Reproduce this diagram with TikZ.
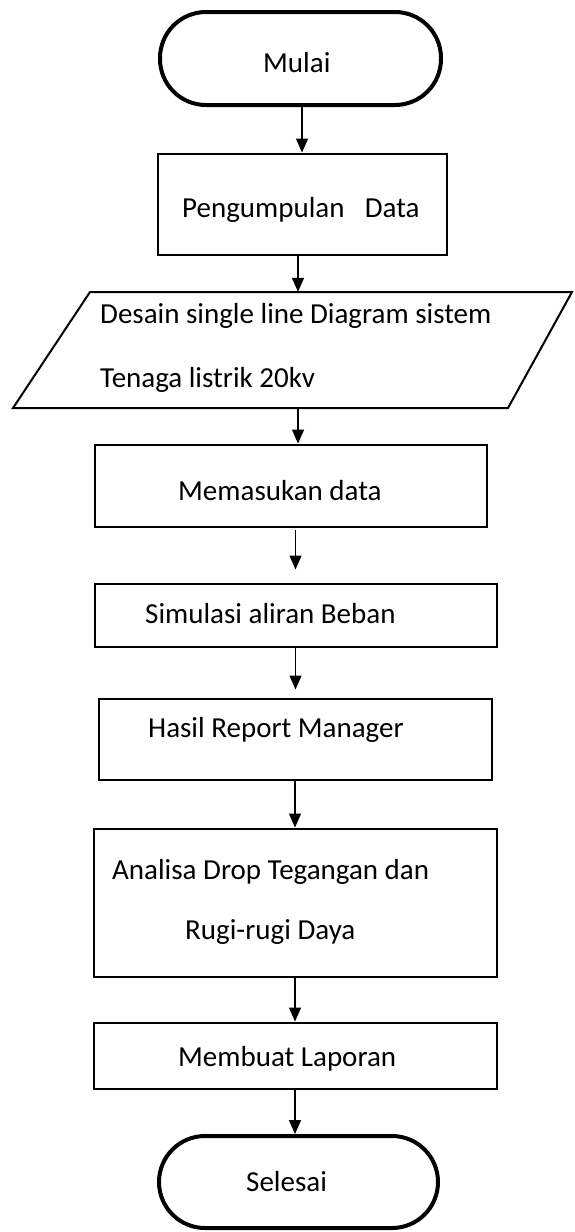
\documentclass[tikz,border=0pt]{standalone}
\usepackage{fontspec}
\setmainfont{Carlito}
\usetikzlibrary{arrows.meta}
\begin{document}
\begin{tikzpicture}[x=1pt,y=-1pt,
  term/.style={draw, line width=4pt, rounded corners=46pt, inner sep=0pt},
  box/.style={draw, line width=2pt, inner sep=0pt},
  ghost/.style={inner sep=0pt},
  txt/.style={anchor=base west, inner sep=0pt, font=\fontsize{29}{34}\selectfont},
  arr/.style={line width=1.4pt, -{Triangle[length=14pt,width=12pt]}}
]
\useasboundingbox (0,0) rectangle (574,1232);
% shapes
\node[term, minimum width=281pt, minimum height=93pt] (mulai) at (300.5,58.5) {};
\node[box, minimum width=289pt, minimum height=101pt] (peng) at (302,204) {};
\node[ghost, minimum width=400pt, minimum height=116pt] (para) at (298,350) {};
\draw[line width=2pt, line join=miter] (90,292) -- (572,292) -- (508,408) -- (13,408) -- cycle;
\node[box, minimum width=392pt, minimum height=82pt] (mem) at (290.5,485.5) {};
\node[box, minimum width=402pt, minimum height=63pt] (sim) at (295.5,615) {};
\node[box, minimum width=393pt, minimum height=81pt] (hasil) at (295,739) {};
\node[box, minimum width=403pt, minimum height=148pt] (ana) at (295,902.5) {};
\node[box, minimum width=403pt, minimum height=66pt] (memb) at (295,1055.5) {};
\node[term, minimum width=279pt, minimum height=92pt] (sel) at (298.5,1182) {};
% texts
\node[txt] (tmulai) at (263,72) {Mulai};
\node[txt] (tpeng) at (182,217) {Pengumpulan\hspace{0.7em}Data};
\node[txt] (tpara1) at (100,323) {Desain single line Diagram sistem};
\node[txt] (tpara2) at (100,387) {Tenaga listrik 20kv};
\node[txt] (tmem) at (178,500) {Memasukan data};
\node[txt] (tsim) at (145,623) {Simulasi aliran Beban};
\node[txt] (thasil) at (148,737) {Hasil Report Manager};
\node[txt] (tana1) at (112,879) {Analisa Drop Tegangan dan};
\node[txt] (tana2) at (185,939) {Rugi-rugi Daya};
\node[txt] (tmemb) at (178,1066) {Membuat Laporan};
\node[txt] (tsel) at (246,1191) {Selesai};
% connectors
\draw[arr] (mulai.south -| peng.north) -- (peng.north);
\draw[arr] (peng.south -| para.north) -- (para.north);
\draw[arr] (para.south) -- (para.south |- mem.north);
\draw[arr, shorten <=2pt, shorten >=13pt] (mem.south -| sim.north) -- (sim.north);
\draw[arr, shorten >=8pt] (sim.south) -- (sim.south |- hasil.north);
\draw[arr] (hasil.south) -- (hasil.south |- ana.north);
\draw[arr] (ana.south) -- (ana.south |- memb.north);
\draw[arr] (memb.south) -- (memb.south |- sel.north);
\end{tikzpicture}
\end{document}
